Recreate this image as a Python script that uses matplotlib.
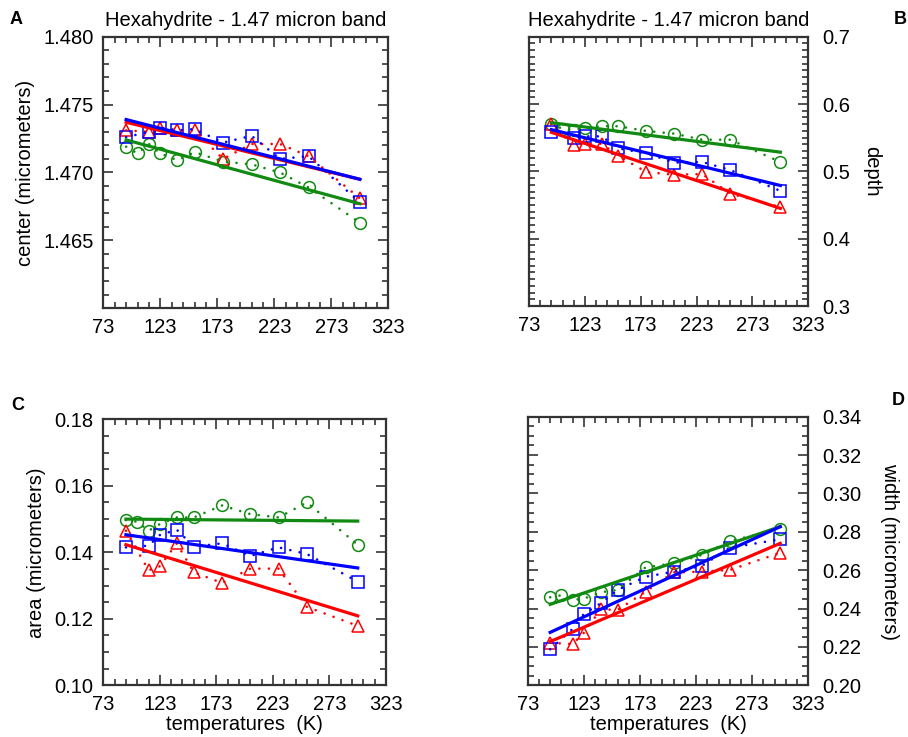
import numpy as np
import matplotlib
matplotlib.use('Agg')
import matplotlib.pyplot as plt
from matplotlib.ticker import MultipleLocator, FormatStrFormatter

plt.rcParams['font.family'] = ['Liberation Sans', 'DejaVu Sans']

# temperatures (K): green series has one extra point at 103 K
temps_green = [93, 103, 113, 123, 138, 153, 178, 203, 228, 253, 298]
temps_rb = [93, 113, 123, 138, 153, 178, 203, 228, 253, 298]
fit_x = [93, 298]

# A - band center
center_green = [1.4719, 1.4714, 1.4721, 1.4714, 1.4709, 1.4715, 1.4708, 1.4706, 1.4700, 1.4689, 1.4663]
center_red = [1.4731, 1.4730, 1.4733, 1.4731, 1.4731, 1.4710, 1.4721, 1.4721, 1.4712, 1.4681]
center_blue = [1.4726, 1.4730, 1.4733, 1.4731, 1.4732, 1.4722, 1.4727, 1.4710, 1.4712, 1.4678]
center_fit = {'green': [1.4724, 1.4677], 'red': [1.4737, 1.4695], 'blue': [1.4739, 1.4695]}

# B - band depth
depth_green = [0.571, 0.563, 0.562, 0.565, 0.567, 0.567, 0.560, 0.556, 0.547, 0.547, 0.514]
depth_red = [0.570, 0.539, 0.541, 0.541, 0.523, 0.499, 0.495, 0.496, 0.467, 0.447]
depth_blue = [0.559, 0.549, 0.552, 0.552, 0.534, 0.527, 0.513, 0.514, 0.502, 0.471]
depth_fit = {'green': [0.5723, 0.5285], 'red': [0.558, 0.445], 'blue': [0.562, 0.479]}

# C - band area
area_green = [0.1497, 0.1492, 0.1465, 0.1485, 0.1505, 0.1505, 0.1541, 0.1515, 0.1505, 0.1550, 0.1423]
area_red = [0.1465, 0.1346, 0.1358, 0.1427, 0.1340, 0.1308, 0.1351, 0.1351, 0.1236, 0.1179]
area_blue = [0.1415, 0.1420, 0.1452, 0.1468, 0.1417, 0.1427, 0.1389, 0.1415, 0.1395, 0.1312]
area_fit = {'green': [0.1500, 0.1494], 'red': [0.1423, 0.1209], 'blue': [0.1453, 0.1353]}

# D - band width
width_green = [0.2459, 0.2469, 0.2445, 0.2452, 0.2485, 0.2497, 0.2615, 0.2636, 0.2679, 0.2752, 0.2815]
width_red = [0.2222, 0.2215, 0.2274, 0.2396, 0.2393, 0.2488, 0.2589, 0.2592, 0.2601, 0.2691]
width_blue = [0.2188, 0.2294, 0.2372, 0.2427, 0.2497, 0.2566, 0.2592, 0.2622, 0.2717, 0.2761]
width_fit = {'green': [0.2422, 0.2827], 'red': [0.2228, 0.2740], 'blue': [0.2276, 0.2827]}

colors = {'green': '#118a11', 'red': '#ff0000', 'blue': '#0000ff'}
markers = {'green': 'o', 'red': '^', 'blue': 's'}
title = 'Hexahydrite - 1.47 micron band'
fs = 14.5

fig = plt.figure(figsize=(9.08, 7.37), dpi=100)


def panel(rect, series, fits, ylim, ymajor, yminor, yfmt, ylabel, right=False, labelpad=6,
          xlabel=None, show_title=False):
    ax = fig.add_axes(rect)
    for name in ['green', 'red', 'blue']:
        xs, ys = series[name]
        c = colors[name]
        ax.plot(xs, ys, linestyle='none', marker=markers[name], markersize=8.5,
                markerfacecolor='none', markeredgecolor=c, markeredgewidth=1.1, zorder=3)
        ax.plot(xs, ys, color=c, linestyle=(0, (0.01, 3.6)), linewidth=1.9,
                dash_capstyle='round', zorder=4)
    for name in ['green', 'red', 'blue']:
        ax.plot(fit_x, fits[name], color=colors[name], linewidth=2.3, zorder=5)

    ax.set_xlim(73, 323)
    ax.set_xticks(np.arange(73, 324, 50))
    ax.xaxis.set_minor_locator(MultipleLocator(10, offset=3))
    ax.set_ylim(*ylim)
    ax.set_yticks(ymajor)
    ax.yaxis.set_minor_locator(MultipleLocator(yminor))
    ax.yaxis.set_major_formatter(FormatStrFormatter(yfmt))
    ax.tick_params(which='both', direction='in', top=True, bottom=True, left=True, right=True,
                   labelsize=fs, pad=7, color='#333333', width=1.2)
    ax.tick_params(which='major', length=7)
    ax.tick_params(which='minor', length=4)
    if right:
        ax.tick_params(axis='y', labelleft=False, labelright=True, pad=10)
        ax.yaxis.set_label_position('right')
        ax.set_ylabel(ylabel, fontsize=fs, rotation=270, labelpad=labelpad)
    else:
        ax.set_ylabel(ylabel, fontsize=fs, labelpad=labelpad)
    for s in ax.spines.values():
        s.set_linewidth(1.6)
        s.set_color('#333333')
    if xlabel:
        ax.set_xlabel(xlabel, fontsize=fs, labelpad=1)
    if show_title:
        ax.set_title(title, fontsize=fs, pad=8)
    return ax


panel([0.1138, 0.5817, 0.3139, 0.3685],
      {'green': (temps_green, center_green), 'red': (temps_rb, center_red), 'blue': (temps_rb, center_blue)},
      center_fit, (1.460, 1.480), [1.465, 1.470, 1.475, 1.480], 0.001, '%.3f',
      'center (micrometers)', show_title=True)

panel([0.5826, 0.5848, 0.3076, 0.3654],
      {'green': (temps_green, depth_green), 'red': (temps_rb, depth_red), 'blue': (temps_rb, depth_blue)},
      depth_fit, (0.3, 0.7), [0.3, 0.4, 0.5, 0.6, 0.7], 0.01, '%.1f',
      'depth', right=True, labelpad=22, show_title=True)

panel([0.1138, 0.0701, 0.3113, 0.3609],
      {'green': (temps_green, area_green), 'red': (temps_rb, area_red), 'blue': (temps_rb, area_blue)},
      area_fit, (0.10, 0.18), [0.10, 0.12, 0.14, 0.16, 0.18], 0.005, '%.2f',
      'area (micrometers)', xlabel='temperatures  (K)')

panel([0.5812, 0.0701, 0.3090, 0.3645],
      {'green': (temps_green, width_green), 'red': (temps_rb, width_red), 'blue': (temps_rb, width_blue)},
      width_fit, (0.20, 0.34), [0.20, 0.22, 0.24, 0.26, 0.28, 0.30, 0.32, 0.34], 0.005, '%.2f',
      'width (micrometers)', right=True, labelpad=27, xlabel='temperatures  (K)')

for letter, x, y in [('A', 0.018, 0.973), ('B', 0.991, 0.973), ('C', 0.019, 0.450), ('D', 0.989, 0.457)]:
    fig.text(x, y, letter, fontsize=13, fontweight='bold', ha='center', va='center')

fig.savefig('out.png', dpi=100)
